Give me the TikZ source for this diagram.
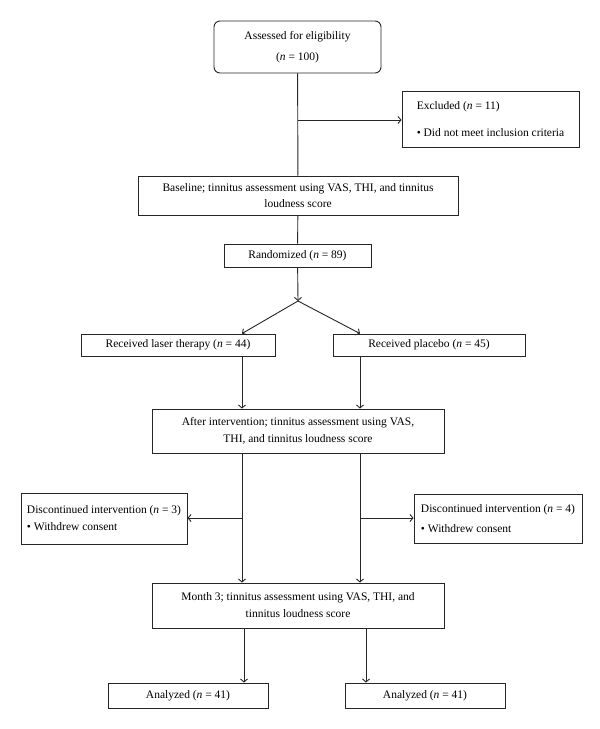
\documentclass[tikz,border=0pt]{standalone}
\usepackage{fontspec}
\setmainfont{Liberation Serif}
\usetikzlibrary{arrows.meta}

\begin{document}
\begin{tikzpicture}[x=1pt, y=-1pt, line width=0.9pt, draw=black!85,
                    main node/.style={rectangle,draw,align=center,inner sep=1pt,font=\fontsize{11.5}{14}\selectfont},
                    list node/.style={main node,align=left},
                    arrow/.style={-{Straight Barb[length=3pt,width=7pt]}}]

  \useasboundingbox (0,0) rectangle (600,729);

  \node[main node,rounded corners=6pt,minimum width=167pt,minimum height=52pt] (1) at (297.5,47) {Assessed for eligibility\\[7pt](\textit{n} = 100)};
  \node[list node,minimum width=177pt,minimum height=56pt] (2) at (490.5,119) {Excluded (\textit{n} = 11)\\[13pt]\textbullet{} Did not meet inclusion criteria};
  \node[main node,minimum width=320pt,minimum height=39pt] (3) at (298,195.5) {Baseline; tinnitus assessment using VAS, THI, and tinnitus\\[2pt]loudness score};
  \node[main node,minimum width=147pt,minimum height=23pt] (4) at (297.5,255.5) {Randomized (\textit{n} = 89)};
  \node[main node,minimum width=194pt,minimum height=22pt] (5) at (178,345) {Received laser therapy (\textit{n} = 44)};
  \node[main node,minimum width=192pt,minimum height=22pt] (6) at (429,345) {Received placebo (\textit{n} = 45)};
  \node[main node,minimum width=292pt,minimum height=44pt] (7) at (298,431) {After intervention; tinnitus assessment using VAS,\\[3pt]THI, and tinnitus loudness score};
  \node[list node,minimum width=166pt,minimum height=51pt] (8) at (104,518.5) {Discontinued intervention (\textit{n} = 3)\\[3pt]\textbullet{} Withdrew consent};
  \node[list node,minimum width=168pt,minimum height=49pt] (9) at (498,518.5) {Discontinued intervention (\textit{n} = 4)\\[6pt]\textbullet{} Withdrew consent};
  \node[main node,minimum width=292pt,minimum height=45pt] (10) at (298,605.5) {Month 3; tinnitus assessment using VAS, THI, and\\[3pt]tinnitus loudness score};
  \node[main node,minimum width=160pt,minimum height=25pt] (11) at (188,695.5) {Analyzed (\textit{n} = 41)};
  \node[main node,minimum width=160pt,minimum height=25pt] (12) at (425,695.5) {Analyzed (\textit{n} = 41)};

  % branch points
  \coordinate (a) at (298,120);
  \coordinate (b) at (298,301);
  \coordinate (c) at (242,518);
  \coordinate (d) at (360,518);
  \coordinate (e) at (244,628);
  \coordinate (f) at (366,628);

  \draw (1) -- (3);
  \draw (3) -- (4);

\path[arrow]
       (a) edge (a -| 2.west)
       (4) edge (b)
       (b) edge (5.north -| c)
       (b) edge (6.north -| d)
       (5.south -| c) edge (7.north -| c)
       (6.south -| d) edge (7.north -| d)
       (7.south -| c) edge (10.north -| c)
       (7.south -| d) edge (10.north -| d)
       (c) edge (c -| 8.east)
       (d) edge (d -| 9.west)
       (e) edge (11.north -| e)
       (f) edge (12.north -| f)
  ;

\end{tikzpicture}
\end{document}
